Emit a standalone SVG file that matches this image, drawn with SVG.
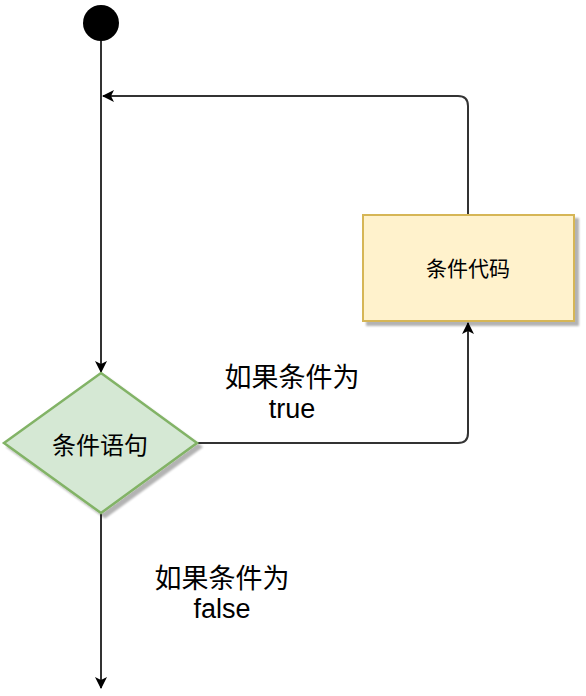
<svg xmlns="http://www.w3.org/2000/svg" width="586" height="696" viewBox="0 0 586 696">
<defs>
<marker id="arr" viewBox="0 0 12 12" refX="11" refY="6" markerWidth="12" markerHeight="12" markerUnits="userSpaceOnUse" orient="auto">
<path d="M0,0 L12,6 L0,12 L3,6 Z" fill="#000"/>
</marker>
<filter id="sh" x="-10%" y="-10%" width="130%" height="130%">
<feGaussianBlur in="SourceAlpha" stdDeviation="1"/>
<feOffset dx="4" dy="4" result="b"/>
<feComponentTransfer><feFuncA type="linear" slope="0.3"/></feComponentTransfer>
<feMerge><feMergeNode/><feMergeNode in="SourceGraphic"/></feMerge>
</filter>
</defs>
<style>
.edge{fill:none;stroke:#333;stroke-width:2}
.lbl{font-family:"Liberation Sans","Noto Sans CJK SC",sans-serif;font-size:27px;fill:#000;text-anchor:middle}
.nl{font-family:"Liberation Sans","Noto Sans CJK SC",sans-serif;fill:#000;text-anchor:middle}
</style>
<g id="start">
<circle cx="101" cy="23" r="18" fill="#000"/>
</g>
<g id="edges">
<path class="edge" d="M101,41 L101,372" marker-end="url(#arr)"/>
<path class="edge" d="M468,215 L468,106 Q468,96 458,96 L103,96" marker-end="url(#arr)"/>
<path class="edge" d="M197,443 L458,443 Q468,443 468,433 L468,323" marker-end="url(#arr)"/>
<path class="edge" d="M101,514 L101,688" marker-end="url(#arr)"/>
</g>
<g id="code">
<rect x="363" y="215" width="211" height="106" fill="#fff2cc" stroke="#d6b656" stroke-width="2" filter="url(#sh)"/>
<text class="nl" x="468" y="276" font-size="21">条件代码</text>
</g>
<g id="cond">
<polygon points="101,373 197,443 101,513 4,443" fill="#d5e8d4" stroke="#82b366" stroke-width="2.5" filter="url(#sh)"/>
<text class="nl" x="100" y="454" font-size="24">条件语句</text>
</g>
<g id="labels">
<text class="lbl" x="292" y="387">如果条件为</text>
<text class="lbl" x="292" y="418">true</text>
<text class="lbl" x="222" y="588">如果条件为</text>
<text class="lbl" x="222" y="618">false</text>
</g>
</svg>
